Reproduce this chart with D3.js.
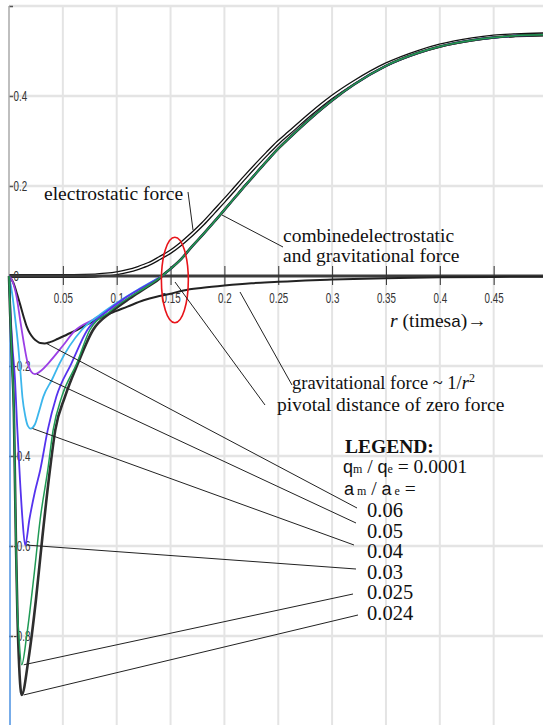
<!DOCTYPE html>
<html>
<head>
<meta charset="utf-8">
<script src="https://cdn.jsdelivr.net/npm/d3@7"></script>
<style>
  body { margin: 0; background: #fff; }
  svg { display: block; }
  .tick text { font-family: "Liberation Sans", Arial, sans-serif; font-size: 14px; fill: #333; }
  .ann { font-family: "Liberation Serif", "Times New Roman", serif; font-size: 19.5px; fill: #111; }
</style>
</head>
<body>
<div id="chart"></div>
<script>
/* CONSTANTS */
const width = 543,
  height = 725;

/* DATA */
const xTicks = [0.05, 0.1, 0.15, 0.2, 0.25, 0.3, 0.35, 0.4, 0.45, 0.5];
const yTicks = [0.6, 0.4, 0.2, 0, -0.2, -0.4, -0.6, -0.8];

// electrostatic force alone
const electrostatic = [
  [0, 0], [0.06, 0], [0.08, 0.001], [0.09, 0.003], [0.1, 0.006], [0.11, 0.011], [0.12, 0.018],
  [0.13, 0.027], [0.14, 0.04], [0.15, 0.054], [0.16, 0.072], [0.17, 0.093], [0.18, 0.116],
  [0.19, 0.142], [0.2, 0.168], [0.21, 0.195], [0.22, 0.222], [0.23, 0.248], [0.24, 0.273],
  [0.25, 0.297], [0.26, 0.318], [0.28, 0.36], [0.3, 0.398], [0.32, 0.43], [0.35, 0.47],
  [0.38, 0.498], [0.4, 0.512], [0.43, 0.526], [0.45, 0.532], [0.47, 0.535], [0.5, 0.537]
];

// gravitational force ~ 1/r^2 (a_m / a_e = 0.06)
const gravitational = [
  [0, 0], [0.004, -0.015], [0.0075, -0.04], [0.0102, -0.062], [0.0135, -0.09], [0.0164, -0.112],
  [0.0195, -0.128], [0.0226, -0.138], [0.026, -0.145], [0.029, -0.149], [0.033, -0.15],
  [0.038, -0.147], [0.045, -0.14], [0.054, -0.13], [0.063, -0.12], [0.072, -0.108],
  [0.083, -0.095], [0.094, -0.083], [0.11, -0.068], [0.125, -0.054], [0.137, -0.046],
  [0.149, -0.04], [0.162, -0.032], [0.18, -0.026], [0.2, -0.021], [0.225, -0.016],
  [0.25, -0.013], [0.275, -0.01], [0.3, -0.008], [0.35, -0.005], [0.4, -0.003],
  [0.45, -0.002], [0.5, -0.0015]
];

// combined force beyond the pivot, shared by every a_m / a_e
const combinedUpper = [
  [0.142, 0], [0.15, 0.016], [0.16, 0.038], [0.17, 0.066], [0.18, 0.092], [0.19, 0.119],
  [0.2, 0.147], [0.21, 0.175], [0.22, 0.203], [0.23, 0.23], [0.24, 0.257], [0.25, 0.283],
  [0.26, 0.306], [0.28, 0.35], [0.3, 0.39], [0.32, 0.425], [0.35, 0.467], [0.38, 0.496],
  [0.4, 0.51], [0.43, 0.524], [0.45, 0.53], [0.47, 0.534], [0.5, 0.536]
];

// combined force inside the pivot, one per a_m / a_e
const dip050 = [
  [0, 0], [0.003, -0.01], [0.007, -0.046], [0.0105, -0.1], [0.0135, -0.145], [0.017, -0.19],
  [0.0205, -0.212], [0.024, -0.218], [0.03, -0.21], [0.0365, -0.194], [0.05, -0.155],
  [0.061, -0.122], [0.078, -0.097], [0.094, -0.074], [0.112, -0.047], [0.13, -0.02], [0.139, -0.004]
];
const dip040 = [
  [0, 0], [0.003, -0.04], [0.006, -0.1], [0.0087, -0.16], [0.0105, -0.21], [0.0125, -0.27],
  [0.015, -0.31], [0.0175, -0.333], [0.0201, -0.339], [0.024, -0.33], [0.028, -0.3],
  [0.0319, -0.268], [0.04, -0.23], [0.047, -0.194], [0.0675, -0.12], [0.085, -0.085],
  [0.103, -0.055], [0.12, -0.03], [0.137, -0.007]
];
const dip030 = [
  [0, 0], [0.001, -0.06], [0.003, -0.15], [0.0056, -0.231], [0.0075, -0.33], [0.0102, -0.453],
  [0.0125, -0.54], [0.015, -0.598], [0.019, -0.54], [0.024, -0.48], [0.029, -0.431],
  [0.036, -0.342], [0.044, -0.268], [0.058, -0.194], [0.0727, -0.12], [0.09, -0.08],
  [0.107, -0.05], [0.125, -0.024], [0.138, -0.006]
];
const dip025 = [
  [0, 0], [0.001, -0.08], [0.003, -0.2], [0.0045, -0.3], [0.0055, -0.45], [0.0065, -0.6],
  [0.0075, -0.72], [0.0092, -0.8], [0.0118, -0.864], [0.0164, -0.8], [0.023, -0.67],
  [0.029, -0.54], [0.036, -0.431], [0.041, -0.342], [0.049, -0.268], [0.063, -0.194],
  [0.075, -0.12], [0.093, -0.08], [0.11, -0.05], [0.127, -0.025], [0.139, -0.006]
];
const dip024 = [
  [0, 0], [0.001, -0.08], [0.003, -0.2], [0.0045, -0.3], [0.0055, -0.45], [0.0065, -0.6],
  [0.0078, -0.75], [0.0095, -0.87], [0.0118, -0.931], [0.018, -0.853], [0.025, -0.72],
  [0.031, -0.58], [0.038, -0.431], [0.043, -0.342], [0.052, -0.268], [0.064, -0.194],
  [0.078, -0.12], [0.095, -0.08], [0.112, -0.05], [0.128, -0.025], [0.14, -0.005]
];

const ratios = ["0.06", "0.05", "0.04", "0.03", "0.025", "0.024"];

/* SCALES */
const xScale = d3.scaleLinear().domain([0, 0.5]).range([9, 547.5]);
const yScale = d3.scaleLinear().domain([-1, 0.6]).range([726, 6]);

const line = d3.line()
  .x(d => xScale(d[0]))
  .y(d => yScale(d[1]))
  .curve(d3.curveMonotoneX);

const svg = d3.select("#chart")
  .append("svg")
  .attr("width", width)
  .attr("height", height);

svg.append("rect").attr("width", width).attr("height", height).attr("fill", "#fff");

/* GRID */
svg.append("g")
  .selectAll("line")
  .data(xTicks)
  .join("line")
  .attr("x1", d => xScale(d)).attr("x2", d => xScale(d))
  .attr("y1", yScale(0.6)).attr("y2", yScale(-1))
  .attr("stroke", "#e4e4e4").attr("stroke-width", 2);

svg.append("g")
  .selectAll("line")
  .data(yTicks.filter(d => d !== 0))
  .join("line")
  .attr("x1", xScale(0)).attr("x2", width)
  .attr("y1", d => yScale(d)).attr("y2", d => yScale(d))
  .attr("stroke", "#e4e4e4").attr("stroke-width", 2.5);

/* ELECTROSTATIC CURVE (hollow line, under the zero line) */
svg.append("path")
  .attr("d", line(electrostatic))
  .attr("fill", "none").attr("stroke", "#111").attr("stroke-width", 4.2);
svg.append("path")
  .attr("d", line(electrostatic))
  .attr("fill", "none").attr("stroke", "#fff").attr("stroke-width", 1.6);

/* Y AXIS */
const yAxis = d3.axisRight(yScale)
  .tickValues(yTicks)
  .tickSize(4)
  .tickPadding(1)
  .tickFormat(d => (d === 0.6 ? "" : String(d)));

const gy = svg.append("g")
  .attr("class", "axis y-axis")
  .attr("transform", `translate(${xScale(0)},0)`)
  .call(yAxis);
gy.select(".domain").remove();
gy.selectAll(".tick line").attr("stroke", "#555").attr("stroke-width", 1.5);
// narrow, tall tick labels
gy.selectAll(".tick text").attr("x", 6.5).attr("transform", "scale(0.7,1.05)");

svg.append("line")
  .attr("x1", xScale(0)).attr("x2", xScale(0))
  .attr("y1", yScale(0.6)).attr("y2", yScale(0))
  .attr("stroke", "#aaa").attr("stroke-width", 1.5);
svg.append("line")
  .attr("x1", xScale(0) + 1).attr("x2", xScale(0) + 1)
  .attr("y1", yScale(0)).attr("y2", height)
  .attr("stroke", "#4a90e2").attr("stroke-width", 1.5);

/* X AXIS (zero line) */
svg.append("line")
  .attr("x1", xScale(0)).attr("x2", width)
  .attr("y1", yScale(0)).attr("y2", yScale(0))
  .attr("stroke", "#3c3c3c").attr("stroke-width", 3);

const xAxis = d3.axisBottom(xScale)
  .tickValues(xTicks)
  .tickFormat(d => (d === 0.5 ? "" : String(d)));

const gx = svg.append("g")
  .attr("class", "axis x-axis")
  .attr("transform", `translate(0,${yScale(0)})`)
  .call(xAxis);
gx.select(".domain").remove();
gx.selectAll(".tick line").attr("y1", -10).attr("y2", 9).attr("stroke", "#333");
gx.selectAll(".tick text").attr("y", 16).attr("transform", "scale(0.7,1.05)");

/* GRAVITATIONAL AND COMBINED CURVES */
svg.append("path")
  .attr("d", line(gravitational))
  .attr("fill", "none").attr("stroke", "#222").attr("stroke-width", 2);

const series = [
  { ratio: "0.05", color: "#9b3fe6", width: 1.8, dip: dip050 },
  { ratio: "0.04", color: "#3cb6ec", width: 1.8, dip: dip040 },
  { ratio: "0.03", color: "#5533ee", width: 1.8, dip: dip030 },
  { ratio: "0.024", color: "#2e2e2e", width: 2.6, dip: dip024 },
  { ratio: "0.025", color: "#1f9a55", width: 1.5, dip: dip025 }
];

svg.append("g")
  .selectAll("path")
  .data(series)
  .join("path")
  .attr("d", d => line(d.dip.concat(combinedUpper)))
  .attr("fill", "none")
  .attr("stroke", d => d.color)
  .attr("stroke-width", d => d.width);

/* RED ELLIPSE AROUND THE PIVOT */
svg.append("ellipse")
  .attr("cx", xScale(0.154)).attr("cy", yScale(-0.009))
  .attr("rx", xScale(0.0125) - xScale(0))
  .attr("ry", yScale(0) - yScale(0.095))
  .attr("fill", "none").attr("stroke", "#e8141a").attr("stroke-width", 1.6);

/* ANNOTATIONS */
const leaders = [
  [[188, 192], [193, 230]],
  [[222, 215], [283, 247]],
  [[240, 292], [292, 385]],
  [[175, 282], [265, 405]]
];
svg.append("g")
  .selectAll("line")
  .data(leaders)
  .join("line")
  .attr("x1", d => d[0][0]).attr("y1", d => d[0][1])
  .attr("x2", d => d[1][0]).attr("y2", d => d[1][1])
  .attr("stroke", "#222").attr("stroke-width", 1);

const ann = svg.append("g").attr("class", "ann");
ann.append("text").attr("x", 44).attr("y", 200).text("electrostatic force");
ann.append("text").attr("x", 283).attr("y", 242).text("combinedelectrostatic");
ann.append("text").attr("x", 283).attr("y", 262).text("and gravitational force");

const rLabel = ann.append("text").attr("x", 390).attr("y", 327);
rLabel.append("tspan").attr("font-style", "italic").text("r");
rLabel.append("tspan").text(" (times");
rLabel.append("tspan").attr("font-family", "Liberation Sans, Arial, sans-serif").attr("font-size", 17).text("a");
rLabel.append("tspan").text(")\u2192");

const gLabel = ann.append("text").attr("x", 292).attr("y", 389).attr("font-size", 18.5);
gLabel.append("tspan").text("gravitational force ~ 1/");
gLabel.append("tspan").attr("font-style", "italic").text("r");
gLabel.append("tspan").attr("font-size", 12).attr("dy", -7).text("2");
ann.append("text").attr("x", 277).attr("y", 411).text("pivotal distance of zero force");

/* LEGEND */
ann.append("text").attr("x", 345).attr("y", 453).attr("font-weight", "bold").text("LEGEND:");
const q = ann.append("text").attr("x", 343).attr("y", 473);
q.append("tspan").attr("font-family", "Liberation Sans, Arial, sans-serif").attr("font-size", 18).text("q");
q.append("tspan").attr("font-size", 12).text("m");
q.append("tspan").text(" / ");
q.append("tspan").attr("font-family", "Liberation Sans, Arial, sans-serif").attr("font-size", 18).text("q");
q.append("tspan").attr("font-size", 12).text("e");
q.append("tspan").text(" = 0.0001");
const a = ann.append("text").attr("x", 344).attr("y", 495);
a.append("tspan").attr("font-family", "Liberation Sans, Arial, sans-serif").attr("font-size", 18).text("a");
a.append("tspan").attr("font-size", 12).text(" m");
a.append("tspan").text(" / ");
a.append("tspan").attr("font-family", "Liberation Sans, Arial, sans-serif").attr("font-size", 18).text("a");
a.append("tspan").attr("font-size", 12).text(" e");
a.append("tspan").text(" =");

const legendY = d3.scalePoint().domain(ratios).range([517, 620]);
ann.append("g")
  .selectAll("text")
  .data(ratios)
  .join("text")
  .attr("x", 367)
  .attr("y", d => legendY(d))
  .attr("font-size", 20.5)
  .text(d => d);

// leader lines from each curve's deepest point to its legend entry
const minima = [
  { ratio: "0.06", pts: gravitational, end: [357, 508] },
  { ratio: "0.05", pts: dip050, end: [356, 523] },
  { ratio: "0.04", pts: dip040, end: [354, 545] },
  { ratio: "0.03", pts: dip030, end: [356, 569] },
  { ratio: "0.025", pts: dip025, end: [353, 594] },
  { ratio: "0.024", pts: dip024, end: [358, 615] }
];
svg.append("g")
  .selectAll("line")
  .data(minima)
  .join("line")
  .attr("x1", d => xScale(d3.least(d.pts, p => p[1])[0]) + 2)
  .attr("y1", d => yScale(d3.least(d.pts, p => p[1])[1]))
  .attr("x2", d => d.end[0])
  .attr("y2", d => d.end[1])
  .attr("stroke", "#222").attr("stroke-width", 1);
</script>
</body>
</html>
